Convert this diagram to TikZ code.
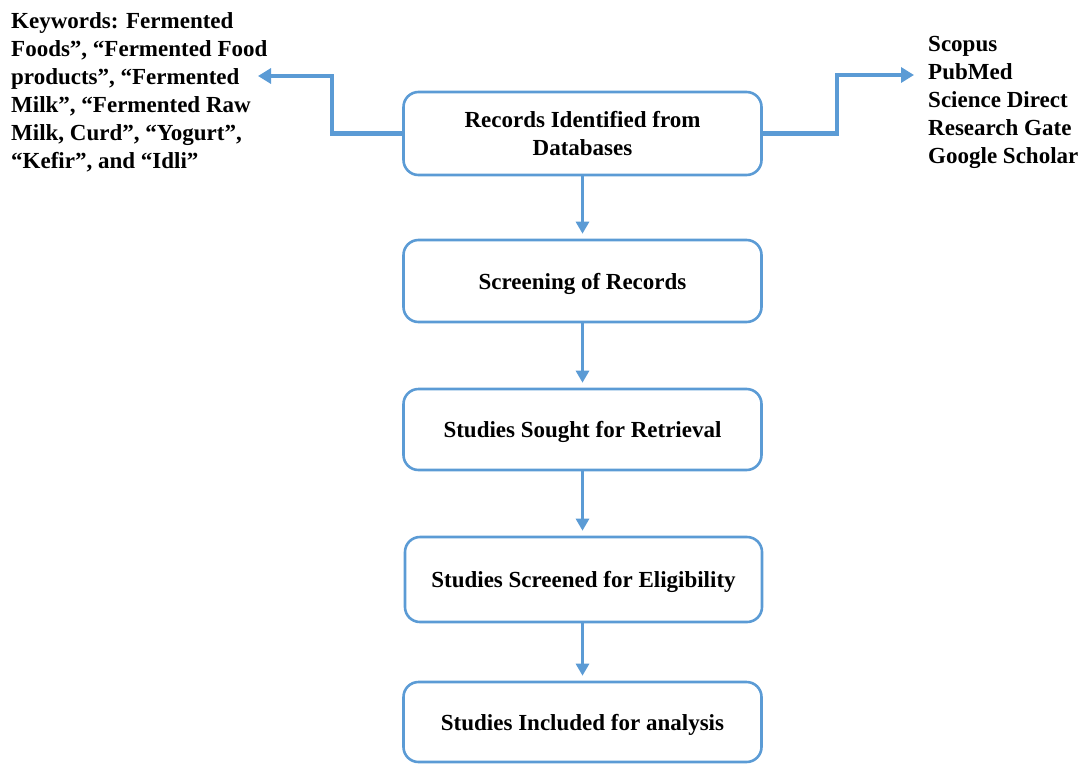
\documentclass[tikz,border=0pt]{standalone}
\usepackage{fontspec}
\setmainfont{Liberation Serif}
\usetikzlibrary{arrows.meta}
\definecolor{lineblue}{HTML}{5B9BD5}
\tikzset{
  stepbox/.style={draw=lineblue, line width=2.6pt, rounded corners=15pt, minimum width=358pt, align=center, inner sep=0pt, text depth=0pt, font=\fontsize{23}{28}\selectfont\bfseries},
  flowarrow/.style={draw=lineblue, line width=2.8pt, -{Triangle[width=13pt,length=12pt]}, shorten >=5pt},
  sidearrow/.style={draw=lineblue, line width=4.2pt, -{Triangle[width=15pt,length=13pt]}},
  sidetext/.style={align=left, inner sep=0pt, font=\fontsize{23}{28}\selectfont\bfseries}
}
\begin{document}
\begin{tikzpicture}[x=1pt,y=-1pt]
\useasboundingbox (0,0) rectangle (1083,763);
\node[stepbox, minimum height=83pt] (b1) at (582.5,133.5) {Records Identified from\\Databases};
\node[stepbox, minimum height=82pt] (b2) at (582.5,281) {Screening of Records};
\node[stepbox, minimum height=81pt] (b3) at (582.5,429.5) {Studies Sought for Retrieval};
\node[stepbox, minimum height=85pt, minimum width=357pt] (b4) at (583.5,579.5) {Studies Screened for Eligibility};
\node[stepbox, minimum height=80pt] (b5) at (582.5,722) {Studies Included for analysis};
\draw[flowarrow] (b1.south) -- (b2.north);
\draw[flowarrow] (b2.south) -- (b3.north);
\draw[flowarrow] (b3.south) -- (b4.north -| b3.south);
\draw[flowarrow] (b4.south -| b3.south) -- (b5.north);
\node[sidetext, anchor=north west] (kw) at (11,12.5) {Keywords: Fermented\\Foods”, “Fermented Food\\products”, “Fermented\\Milk”, “Fermented Raw\\Milk, Curd”, “Yogurt”,\\“Kefir”, and “Idli”};
\node[sidetext, anchor=north west] (db) at (928,36) {Scopus\\PubMed\\Science Direct\\Research Gate\\Google Scholar};
\coordinate (kwend) at (258,76);
\coordinate (dbend) at (914,75);
\draw[sidearrow] (b1.west) -- (332,133.5) -- (332,76) -- (kwend);
\draw[sidearrow] (b1.east) -- (837,133.5) -- (837,75) -- (dbend);
\end{tikzpicture}
\end{document}
